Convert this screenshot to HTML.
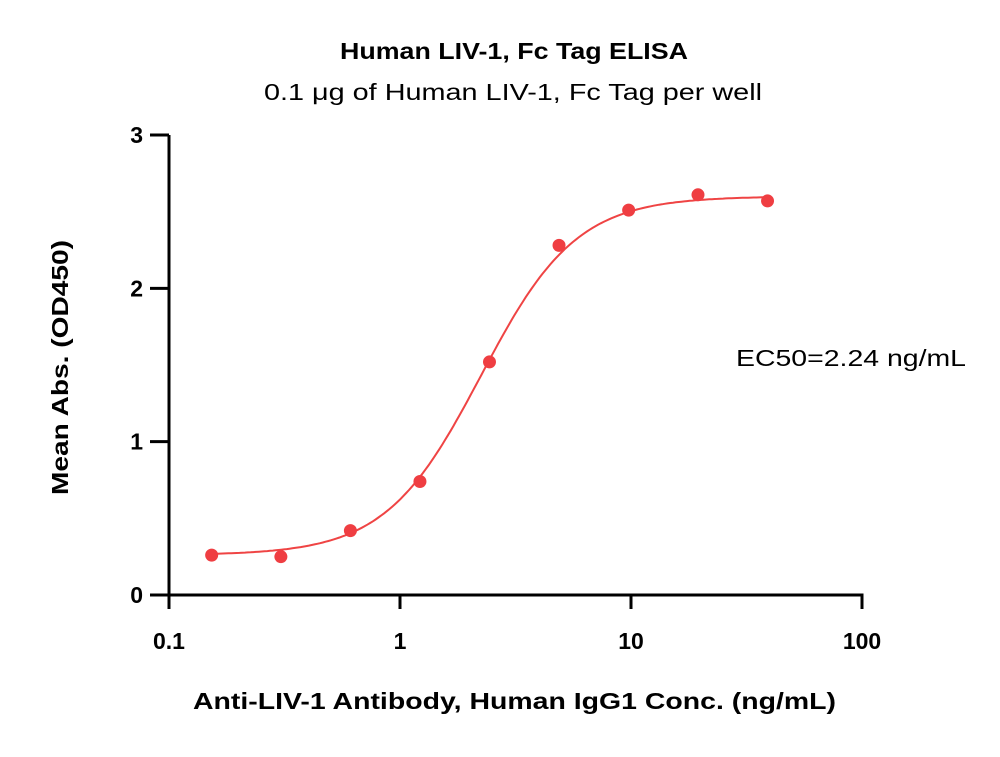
<!DOCTYPE html>
<html><head><meta charset="utf-8"><style>
body{margin:0;background:#fff}
text{font-family:"Liberation Sans",sans-serif}
</style></head><body>
<svg id="chart" width="1000" height="752" viewBox="0 0 1000 752">
<text x="340" y="59" textLength="348" lengthAdjust="spacingAndGlyphs" font-size="23" font-weight="bold">Human LIV-1, Fc Tag ELISA</text>
<text x="264" y="100" textLength="498" lengthAdjust="spacingAndGlyphs" font-size="23">0.1 μg of Human LIV-1, Fc Tag per well</text>
<text x="736" y="366" textLength="230" lengthAdjust="spacingAndGlyphs" font-size="23">EC50=2.24 ng/mL</text>
<text x="193" y="709" textLength="643" lengthAdjust="spacingAndGlyphs" font-size="23" font-weight="bold">Anti-LIV-1 Antibody, Human IgG1 Conc. (ng/mL)</text>
<text transform="translate(68,495) rotate(-90)" textLength="255" lengthAdjust="spacingAndGlyphs" font-size="23" font-weight="bold">Mean Abs. (OD450)</text>
<g id="axes"></g>
<g id="marks"></g>
</svg>
<script>
const concs=[0.153,0.305,0.61,1.22,2.44,4.88,9.77,19.5,39];
const ods=[0.26,0.25,0.42,0.74,1.52,2.28,2.51,2.61,2.57];
const xTicks=[0.1,1,10,100];
const xTickLabels=["0.1","1","10","100"];
const yTicks=[0,1,2,3];
const yTickLabels=["0","1","2","3"];
const fitBottom=0.26, fitTop=2.6, fitEC50=2.24, fitHill=2.1;

const NS="http://www.w3.org/2000/svg";
const X0=169,X1=862,Y0=595,Y1=135;
const xs=v=>X0+(Math.log10(v)+1)/3*(X1-X0);
const ys=v=>Y0-v/3*(Y0-Y1);
function mk(tag,attrs,parent){const e=document.createElementNS(NS,tag);for(const k in attrs)e.setAttribute(k,attrs[k]);parent.appendChild(e);return e;}
const ax=document.getElementById('axes'), mg=document.getElementById('marks');
let l=mk('line',{x1:X0,y1:Y1,x2:X0,y2:Y0,stroke:'#000','stroke-width':3},ax);


l=mk('line',{x1:X0-1.5,y1:Y0,x2:X1+1.5,y2:Y0,stroke:'#000','stroke-width':3},ax);


xTicks.forEach((t,i)=>{
  const tk=mk('line',{x1:xs(t),y1:Y0,x2:xs(t),y2:Y0+14,stroke:'#000','stroke-width':3},ax);
  
  
  const tx=mk('text',{x:xs(t),y:Y0+54,'text-anchor':'middle','font-size':23,'font-weight':'bold'},ax);
  tx.textContent=xTickLabels[i];
  
  
});
yTicks.forEach((t,i)=>{
  const tk=mk('line',{x1:X0-19,y1:ys(t),x2:X0,y2:ys(t),stroke:'#000','stroke-width':3},ax);
  
  
  const tx=mk('text',{x:X0-26,y:ys(t)+8,'text-anchor':'end','font-size':23,'font-weight':'bold'},ax);
  tx.textContent=yTickLabels[i];
  
  
});
let d='';
const lo=Math.log10(concs[0]), hi=Math.log10(concs[concs.length-1]);
for(let i=0;i<=200;i++){
  const lx=lo+(hi-lo)*i/200, c=Math.pow(10,lx);
  const y=fitBottom+(fitTop-fitBottom)/(1+Math.pow(fitEC50/c,fitHill));
  d+=(i?'L':'M')+xs(c).toFixed(1)+','+ys(y).toFixed(1);
}
const p=mk('path',{d:d,fill:'none',stroke:'#ef4444','stroke-width':2},mg);


concs.forEach((c,i)=>{
  const pt=mk('circle',{cx:xs(c),cy:ys(ods[i]),r:6.5,fill:'#ef3e42'},mg);
  
  
});
</script>
</body></html>
